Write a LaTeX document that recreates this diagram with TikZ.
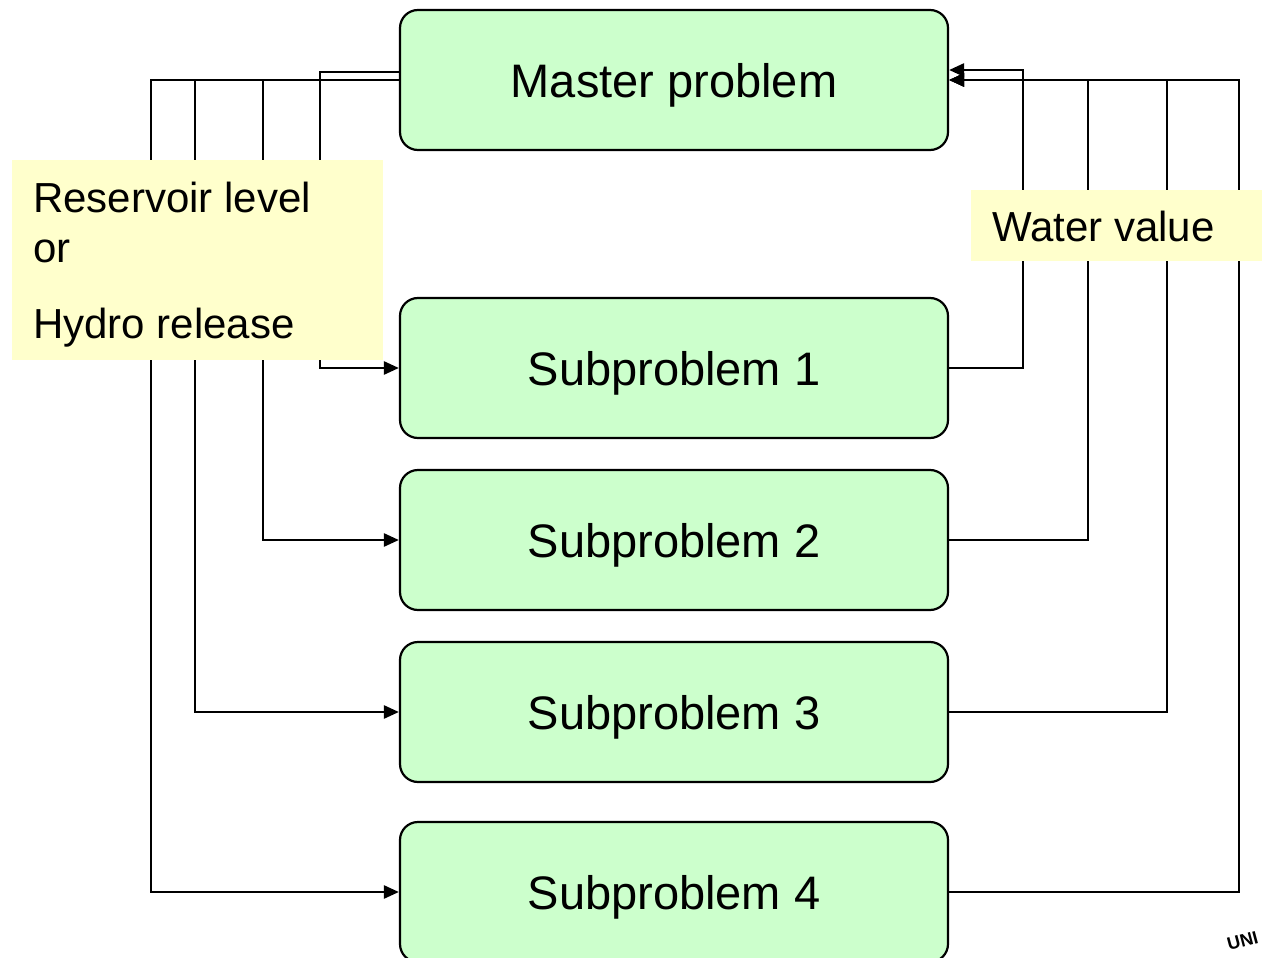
\documentclass[tikz,border=0pt]{standalone}
\usepackage{fontspec}
\setmainfont{Liberation Sans}
\usetikzlibrary{arrows.meta}
\definecolor{boxgreen}{HTML}{CCFFCC}
\definecolor{noteyellow}{HTML}{FFFFCC}

\begin{document}
\begin{tikzpicture}[x=1pt,y=-1pt,
  prob/.style={draw=black, line width=2.2pt, fill=boxgreen, rounded corners=18pt,
    minimum width=548pt, minimum height=140pt, inner sep=0pt,
    text height=34pt, text depth=0pt,
    font=\fontsize{47}{56}\selectfont},
  link/.style={line width=2.5pt},
  arr/.style={link, -{Triangle[length=15pt,width=13pt]}},
  note/.style={fill=noteyellow, inner sep=0pt, anchor=north west},
  notetext/.style={anchor=base west, inner sep=0pt, font=\fontsize{42}{50}\selectfont}]

\useasboundingbox (0,0) rectangle (1262,958);

% problem boxes
\node[prob] (master) at (674,80)  {Master problem};
\node[prob] (sub1)   at (674,368) {Subproblem 1};
\node[prob] (sub2)   at (674,540) {Subproblem 2};
\node[prob] (sub3)   at (674,712) {Subproblem 3};
\node[prob] (sub4)   at (674,892) {Subproblem 4};

% master -> subproblems (left side)
\draw[arr] ([yshift=8pt]master.west) -| ([xshift=-79pt]sub1.west) -- (sub1.west);
\draw[arr] (master.west) -| ([xshift=-136pt]sub2.west) -- (sub2.west);
\draw[arr] (master.west) -| ([xshift=-204pt]sub3.west) -- (sub3.west);
\draw[arr] (master.west) -| ([xshift=-248pt]sub4.west) -- (sub4.west);

% subproblems -> master (right side)
\draw[arr] (sub1.east) -| ([xshift=74pt,yshift=10pt]master.east) -- ([yshift=10pt]master.east);
\draw[arr] (sub2.east) -| ([xshift=139pt]master.east) -- (master.east);
\draw[arr] (sub3.east) -| ([xshift=218pt]master.east) -- (master.east);
\draw[arr] (sub4.east) -| ([xshift=290pt]master.east) -- (master.east);

% labels
\node[note, minimum width=371pt, minimum height=200pt] (resnote) at (12,160) {};
\node[notetext] (res1) at (33,212) {Reservoir level};
\node[notetext] (res2) at (33,262) {or};
\node[notetext] (res3) at (33,338) {Hydro release};

\node[note, minimum width=291pt, minimum height=71pt] (wvnote) at (971,190) {};
\node[notetext] (wv) at (992,241) {Water value};

% corner logo text
\node[rotate=15, anchor=base west, inner sep=0pt, font=\fontsize{18}{20}\selectfont\bfseries] (logo) at (1229,951) {UNI};

\end{tikzpicture}
\end{document}
